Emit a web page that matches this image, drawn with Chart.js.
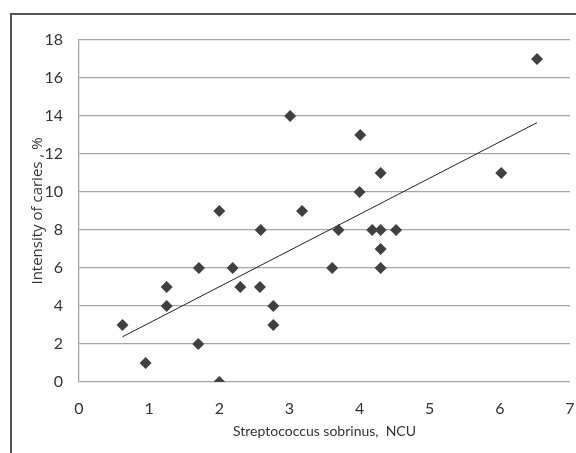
<!DOCTYPE html>
<html>
<head>
<meta charset="utf-8">
<script src="https://cdn.jsdelivr.net/npm/chart.js@4/dist/chart.umd.min.js"></script>
<style>
    html, body { margin: 0; padding: 0; background: #fff; overflow: hidden; }
    #frame { position: absolute; left: 10px; top: 13px; width: 620px; height: 500px; border: 2px solid #555; box-sizing: border-box; }
    #wrap { position: absolute; left: 0; top: 0; width: 576px; height: 453px; }
</style>
</head>
<body>
<div id="frame"></div>
<div id="wrap"><canvas id="cariesChart"></canvas></div>
<script>
// Streptococcus sobrinus (NCU) vs intensity of caries (%)
const sobrinus = [0.62, 0.95, 1.25, 1.25, 1.71, 1.70, 2.0, 2.0, 2.19, 2.30, 2.59, 2.58, 2.77, 2.77,
    3.01, 3.18, 3.61, 3.70, 4.01, 4.0, 4.18, 4.30, 4.30, 4.30, 4.30, 4.52, 6.02, 6.53];
const caries = [3, 1, 5, 4, 6, 2, 9, 0, 6, 5, 8, 5, 4, 3,
    14, 9, 6, 8, 13, 10, 8, 11, 8, 7, 6, 8, 11, 17];

// trend line end points
const trendX = [0.62, 6.53];
const trendY = [2.38, 13.65];

const xTicks = [0, 1, 2, 3, 4, 5, 6, 7];
const yTicks = [0, 2, 4, 6, 8, 10, 12, 14, 16, 18];

const tickFont = { family: 'Lato, "Liberation Sans", sans-serif', size: 16 };

const ctx = document.getElementById('cariesChart').getContext('2d');
new Chart(ctx, {
    type: 'scatter',
    data: {
        datasets: [{
            label: 'Caries',
            data: sobrinus.map((x, i) => ({ x: x, y: caries[i] })),
            pointStyle: 'rectRot',
            pointRadius: 6,
            pointHoverRadius: 6,
            backgroundColor: '#404040',
            borderColor: '#404040',
            borderWidth: 0
        }, {
            label: 'Trend',
            data: trendX.map((x, i) => ({ x: x, y: trendY[i] })),
            showLine: true,
            pointRadius: 0,
            borderColor: '#222',
            borderWidth: 1
        }]
    },
    options: {
        responsive: true,
        maintainAspectRatio: false,
        animation: false,
        layout: {
            padding: { left: 0, right: 0, top: 40, bottom: 0 }
        },
        plugins: {
            legend: { display: false },
            tooltip: { enabled: false }
        },
        scales: {
            x: {
                type: 'linear',
                min: 0,
                max: 7,
                afterBuildTicks: axis => { axis.ticks = xTicks.map(v => ({ value: v })); },
                afterFit: axis => { axis.height = 71; },
                grid: { display: true, drawOnChartArea: false, color: 'transparent', tickColor: 'transparent', tickLength: 16 },
                border: { display: false },
                ticks: { color: '#333', font: tickFont, padding: 1, maxRotation: 0 },
                title: {
                    display: true,
                    text: 'Streptococcus sobrinus,  NCU',
                    color: '#333',
                    font: { family: 'Lato, "Liberation Sans", sans-serif', size: 14 },
                    padding: { top: 0, bottom: 13 }
                }
            },
            y: {
                type: 'linear',
                min: 0,
                max: 18,
                afterBuildTicks: axis => { axis.ticks = yTicks.map(v => ({ value: v })); },
                afterFit: axis => { axis.width = 79; },
                grid: { color: '#a6a6a6', lineWidth: 1.3, drawTicks: false },
                border: { display: true, color: '#a6a6a6', width: 1.3 },
                ticks: { color: '#333', font: tickFont, padding: 16 },
                title: {
                    display: true,
                    text: 'Intensity of caries , %',
                    color: '#333',
                    font: { family: '"Open Sans", sans-serif', size: 15 },
                    padding: { top: 29, bottom: 0 }
                }
            }
        }
    }
});
</script>
</body>
</html>
